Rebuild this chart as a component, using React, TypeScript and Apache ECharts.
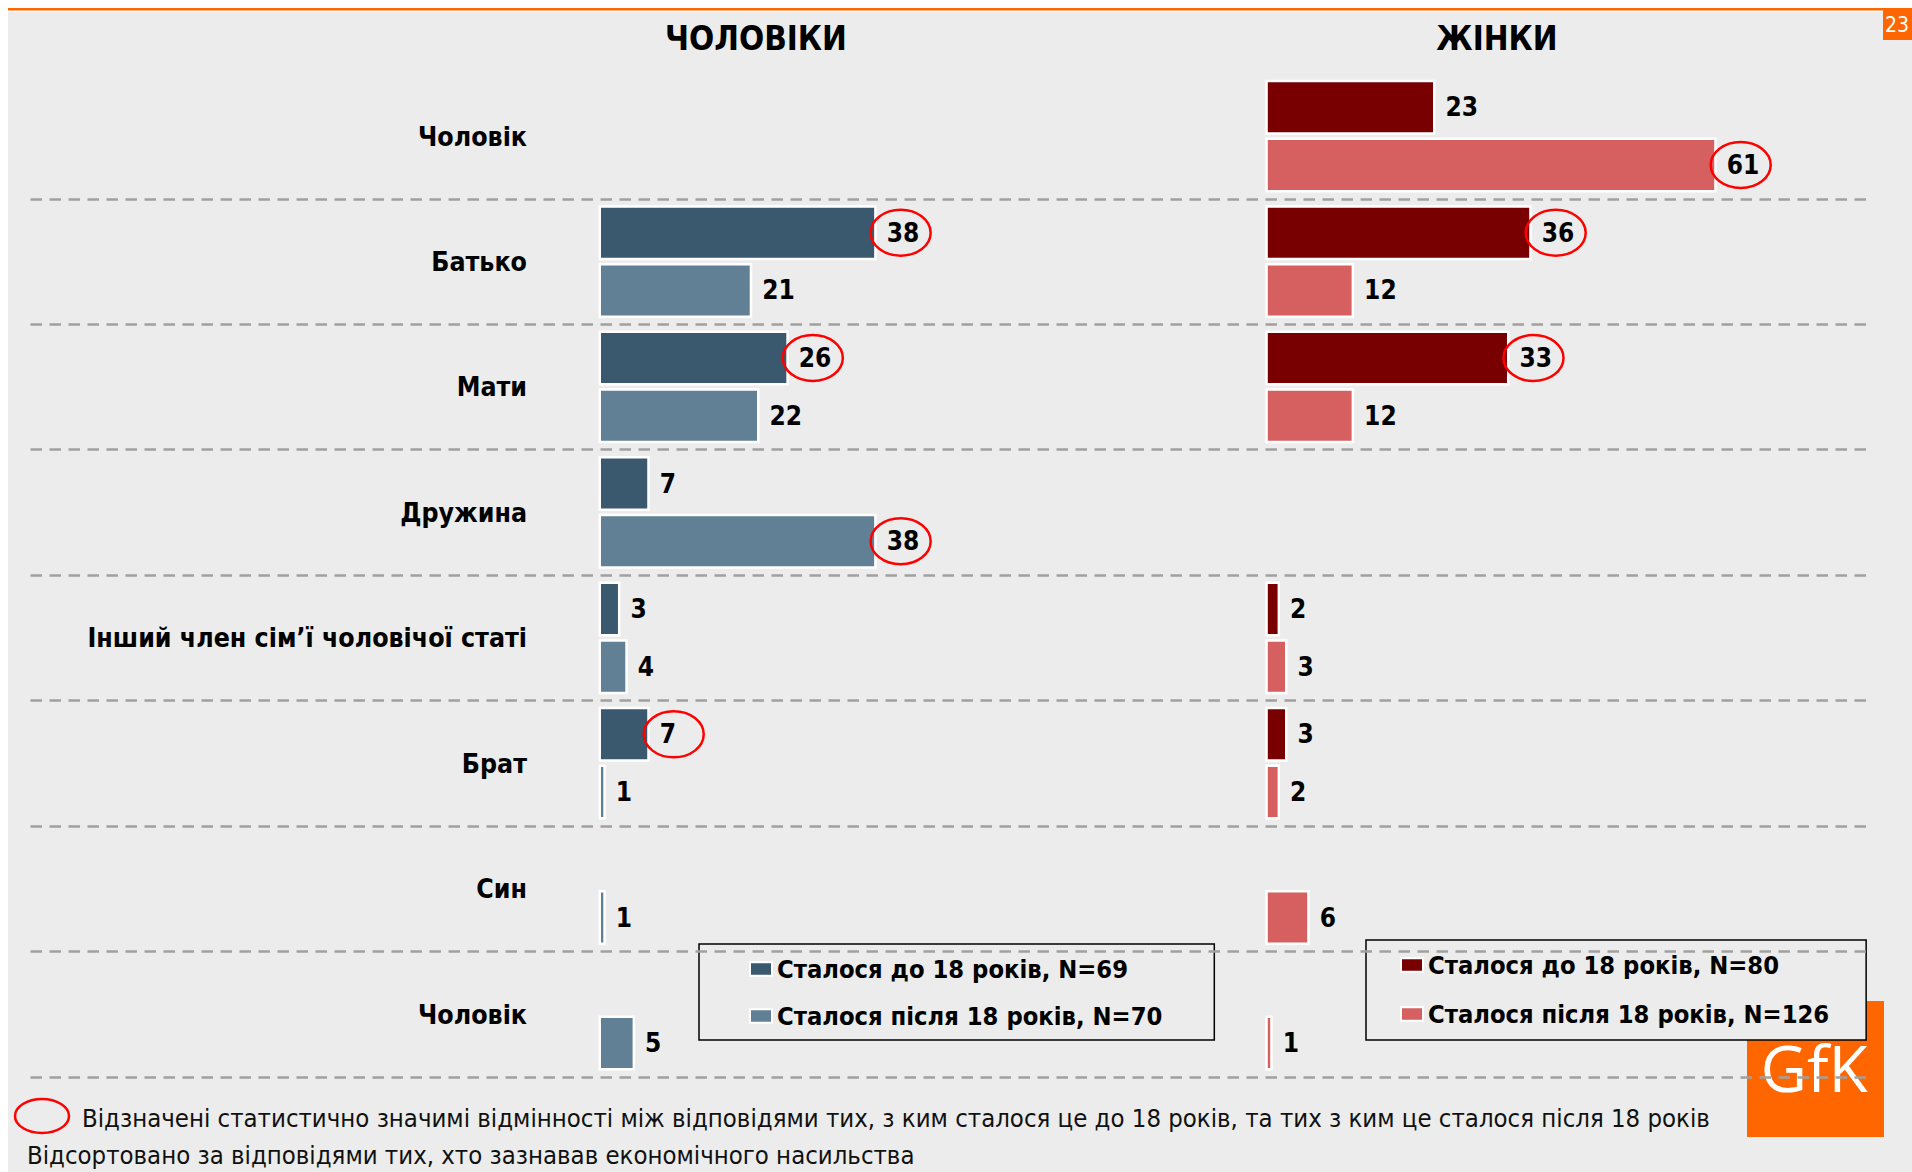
import React, { useEffect, useRef } from 'react';
import * as echarts from 'echarts';

// ---------- data ----------
const categories = [
  'Чоловік',
  'Батько',
  'Мати',
  'Дружина',
  'Інший член сім’ї чоловічої статі',
  'Брат',
  'Син',
  'Чоловік',
];
const menBefore = [null, 38, 26, 7, 3, 7, null, null];
const menAfter = [null, 21, 22, 38, 4, 1, 1, 5];
const womenBefore = [23, 36, 33, null, 2, 3, null, null];
const womenAfter = [61, 12, 12, null, 3, 2, 6, 1];
const menLegend = ['Сталося до 18 років, N=69', 'Сталося після 18 років, N=70'];
const womenLegend = ['Сталося до 18 років, N=80', 'Сталося після 18 років, N=126'];
// [category index, 0 = before 18 / 1 = after 18]
const menCircled = [[1, 0], [2, 0], [3, 1], [5, 0]];
const womenCircled = [[0, 1], [1, 0], [2, 0]];
const panelTitles = ['ЧОЛОВІКИ', 'ЖІНКИ'];
const footnotes = [
  'Відзначені статистично значимі відмінності між відповідями тих, з ким сталося це до 18 років, та тих з ким це сталося після 18 років',
  'Відсортовано за відповідями тих, хто зазнавав економічного насильства',
];
const pageNumber = '23';

// ---------- styles ----------
const FONT = "'DejaVu Sans Condensed', 'DejaVu Sans', sans-serif";
const BG = '#ebeceb';
const ORANGE = '#ff6600';
const C_MEN_DARK = '#3a586e';
const C_MEN_LIGHT = '#628095';
const C_WOM_DARK = '#780000';
const C_WOM_LIGHT = '#d65f5f';
const BAR_W = 55;
const BAR_GAP = 0.05;
const OFF = (BAR_W * (1 + BAR_GAP)) / 2;
const GRID_TOP = 73.4;
const GRID_H = 1003.4;

function barSeries(name: string, data: (number | null)[], color: string, idx: number) {
  return {
    type: 'bar',
    name,
    xAxisIndex: idx,
    yAxisIndex: idx,
    data,
    barWidth: BAR_W,
    barGap: BAR_GAP * 100 + '%',
    z: 2,
    itemStyle: { color, borderColor: '#ffffff', borderWidth: 2.5 },
    label: {
      show: true,
      position: 'right',
      distance: 10,
      fontFamily: FONT,
      fontWeight: 'bold',
      fontSize: 26,
      color: '#000',
    },
    emphasis: { disabled: true },
  };
}

function ellipseSeries(idx: number, before: (number | null)[], after: (number | null)[], circled: number[][]) {
  return {
    type: 'custom',
    xAxisIndex: idx,
    yAxisIndex: idx,
    z: 6,
    silent: true,
    encode: { x: 0, y: 1 },
    data: circled.map(([c, s]) => [(s === 0 ? before : after)[c], c, s]),
    renderItem: (_params: any, api: any) => {
      const p = api.coord([api.value(0), api.value(1)]);
      const s = api.value(2);
      return {
        type: 'ellipse',
        shape: { cx: p[0] + 24, cy: p[1] + (s === 0 ? -OFF : OFF), rx: 30, ry: 23 },
        style: { fill: 'none', stroke: '#ff0000', lineWidth: 2.5 },
      };
    },
  };
}

function legendOpt(data: string[], left: number, top: number, padding: number[], itemGap: number) {
  return {
    data,
    orient: 'vertical',
    left,
    top,
    padding,
    itemGap,
    itemWidth: 22,
    itemHeight: 13.5,
    icon: 'rect',
    borderColor: '#000',
    borderWidth: 1.5,
    backgroundColor: BG,
    selectedMode: false,
    z: 5,
    textStyle: { fontFamily: FONT, fontWeight: 'bold', fontSize: 25.3, color: '#000', lineHeight: 26 },
  };
}

function txt(text: string, x: number, y: number, size: number, weight: string, align: string, fill = '#000', family = FONT, z = 3) {
  return {
    type: 'text',
    x,
    y,
    z,
    silent: true,
    style: {
      text,
      fill,
      fontFamily: family,
      fontSize: size,
      fontWeight: weight,
      align,
      verticalAlign: 'middle',
      textAlign: align,
      textVerticalAlign: 'middle',
    },
  };
}

export default function App() {
  const ref = useRef<HTMLDivElement>(null);
  useEffect(() => {
    document.body.style.margin = '0';
    document.body.style.overflow = 'hidden';
    const chart = echarts.init(ref.current!, null, { renderer: 'svg' });
    const option: any = {
      animation: false,
      backgroundColor: BG,
      grid: [
        { left: 598.5, top: GRID_TOP, width: 50 * 7.32, height: GRID_H, outerBoundsMode: 'none' },
        { left: 1265.3, top: GRID_TOP, width: 62 * 7.4, height: GRID_H, outerBoundsMode: 'none' },
        { left: 30.5, top: GRID_TOP, width: 1841.5, height: GRID_H, outerBoundsMode: 'none' },
      ],
      xAxis: [
        { gridIndex: 0, type: 'value', min: 0, max: 50, show: false },
        { gridIndex: 1, type: 'value', min: 0, max: 62, show: false },
        { gridIndex: 2, type: 'value', min: 0, max: 1, show: false },
      ],
      yAxis: [
        {
          gridIndex: 0,
          type: 'category',
          data: categories,
          inverse: true,
          axisLine: { show: false },
          axisTick: { show: false },
          splitLine: { show: false },
          axisLabel: {
            interval: 0,
            margin: 71.5,
            fontFamily: FONT,
            fontWeight: 'bold',
            fontSize: 26.5,
            color: '#000',
          },
        },
        { gridIndex: 1, type: 'category', data: categories, inverse: true, show: false },
        {
          gridIndex: 2,
          type: 'category',
          data: categories,
          inverse: true,
          z: 20,
          axisLine: { show: false },
          axisTick: { show: false },
          axisLabel: { show: false },
          splitLine: {
            show: true,
            interval: 0,
            showMinLine: false,
            showMaxLine: true,
            lineStyle: { type: [11.5, 7.5], color: '#a0a0a0', width: 2.5 },
          },
        },
      ],
      legend: [
        legendOpt(menLegend, 699, 944, [12, 52, 11, 50], 21),
        legendOpt(womenLegend, 1366, 940, [12, 37, 13, 34], 23),
      ],
      series: [
        barSeries(menLegend[0], menBefore, C_MEN_DARK, 0),
        barSeries(menLegend[1], menAfter, C_MEN_LIGHT, 0),
        barSeries(womenLegend[0], womenBefore, C_WOM_DARK, 1),
        barSeries(womenLegend[1], womenAfter, C_WOM_LIGHT, 1),
        ellipseSeries(0, menBefore, menAfter, menCircled),
        ellipseSeries(1, womenBefore, womenAfter, womenCircled),
      ],
      graphic: [
        { type: 'rect', z: 1, silent: true, shape: { x: 0, y: 0, width: 1912, height: 12 }, style: { fill: '#fff' } },
        { type: 'rect', z: 1, silent: true, shape: { x: 0, y: 0, width: 8, height: 1172 }, style: { fill: '#fff' } },
        { type: 'rect', z: 2, silent: true, shape: { x: 8, y: 8, width: 1904, height: 2.5 }, style: { fill: ORANGE } },
        { type: 'rect', z: 2, silent: true, shape: { x: 1883, y: 8, width: 29, height: 32 }, style: { fill: ORANGE } },
        txt(pageNumber, 1885, 25, 21, 'normal', 'left', '#fff', FONT, 3),
        txt(panelTitles[0], 756, 38, 33, 'bold', 'center'),
        txt(panelTitles[1], 1497, 38, 33, 'bold', 'center'),
        { type: 'rect', z: 1, silent: true, shape: { x: 1747, y: 1001, width: 137, height: 136 }, style: { fill: ORANGE } },
        txt('GfK', 1814, 1067, 64, 'normal', 'center', '#fff', "'Open Sans', sans-serif", 2),
        { type: 'ellipse', z: 3, silent: true, shape: { cx: 42, cy: 1116, rx: 27, ry: 17 }, style: { fill: 'none', stroke: '#ff0000', lineWidth: 2.5 } },
        txt(footnotes[0], 82, 1118, 25.5, 'normal', 'left', '#111'),
        txt(footnotes[1], 27, 1155, 25.5, 'normal', 'left', '#111'),
      ],
    };
    chart.setOption(option);
    return () => chart.dispose();
  }, []);
  return <div ref={ref} style={{ width: 1912, height: 1172 }} />;
}
